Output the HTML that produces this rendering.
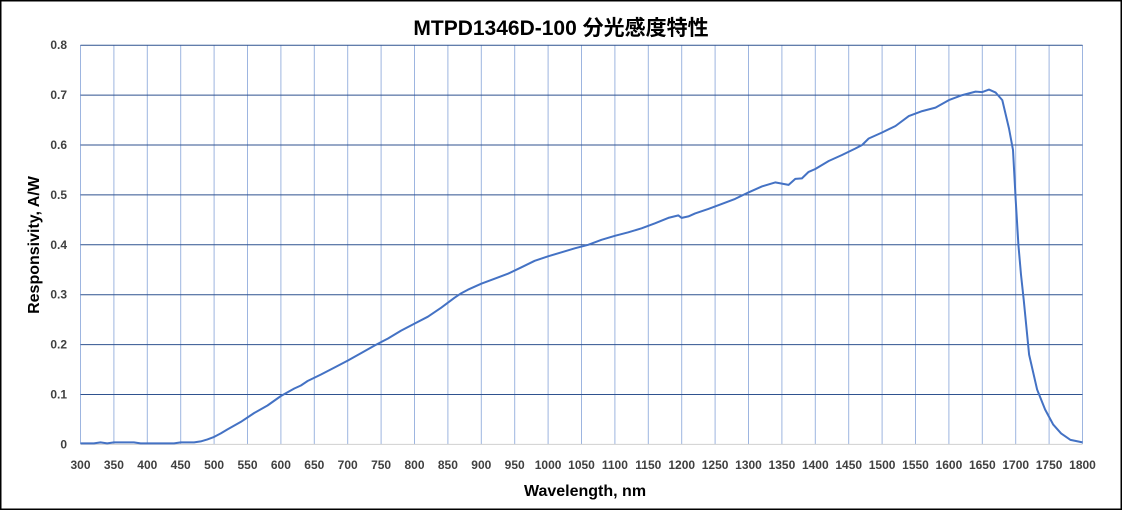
<!DOCTYPE html>
<html><head><meta charset="utf-8"><style>
html,body{margin:0;padding:0;background:#fff}
svg{display:block}
text{font-family:"Liberation Sans","Noto Sans CJK JP",sans-serif}
</style></head><body>
<svg width="1122" height="510" viewBox="0 0 1122 510" xmlns="http://www.w3.org/2000/svg">
<rect x="0.75" y="0.75" width="1120.5" height="508.5" fill="#fff" stroke="#000" stroke-width="1.5"/>
<text x="561" y="35" text-anchor="middle" font-size="21" font-weight="bold" fill="#000">MTPD1346D-100 分光感度特性</text>
<g id="v" stroke="#9db5e0" stroke-width="1"></g>
<g id="h" stroke="#2f528f" stroke-width="1"></g>
<line x1="80.5" y1="444.4" x2="1082.5" y2="444.4" stroke="#d0d0d0" stroke-width="1"/>
<g id="yl" font-size="12" font-weight="bold" fill="#404040" text-anchor="end"></g>
<g id="xl" font-size="12" font-weight="bold" fill="#404040" text-anchor="middle"></g>
<polyline id="c" fill="none" stroke="#4472c4" stroke-width="2" stroke-linejoin="round"/>
<text x="585" y="496" text-anchor="middle" font-size="16" font-weight="bold" fill="#000">Wavelength, nm</text>
<text transform="translate(39,245) rotate(-90)" text-anchor="middle" font-size="16" font-weight="bold" fill="#000">Responsivity, A/W</text>
</svg>
<script>
const NS="http://www.w3.org/2000/svg";
const X=l=>80.5+(l-300)*0.668, Y=r=>444.4-r*499;
function el(p,t,a,txt){const e=document.createElementNS(NS,t);for(const k in a)e.setAttribute(k,a[k]);if(txt!=null)e.textContent=txt;document.getElementById(p).appendChild(e);}
for(let l=300;l<=1800;l+=50){el('v','line',{x1:X(l),y1:45,x2:X(l),y2:444});el('xl','text',{x:X(l),y:469},l);}
for(let i=1;i<=8;i++){el('h','line',{x1:80.5,y1:Y(i/10),x2:1082.5,y2:Y(i/10)});}
for(let i=0;i<=8;i++){el('yl','text',{x:67,y:Y(i/10)+4},i==0?'0':(i/10).toFixed(1));}
const d=[[300,.002],[320,.002],[330,.004],[340,.002],[350,.004],[380,.004],[390,.002],[440,.002],[450,.004],[470,.004],[480,.006],[490,.01],[500,.015],[510,.022],[520,.03],[540,.045],[560,.063],[580,.078],[600,.097],[620,.112],[630,.118],[640,.127],[660,.14],[680,.154],[700,.168],[720,.183],[740,.198],[760,.212],[780,.228],[800,.242],[820,.256],[840,.274],[860,.294],[870,.303],[880,.31],[900,.322],[920,.332],[940,.342],[960,.355],[980,.368],[1000,.377],[1020,.385],[1040,.393],[1060,.4],[1080,.41],[1100,.418],[1120,.425],[1140,.433],[1160,.443],[1180,.454],[1195,.459],[1200,.454],[1210,.457],[1220,.463],[1240,.472],[1260,.482],[1280,.492],[1300,.505],[1320,.517],[1340,.525],[1360,.52],[1370,.532],[1380,.533],[1390,.546],[1400,.552],[1420,.568],[1440,.58],[1460,.593],[1470,.6],[1480,.613],[1500,.625],[1520,.638],[1540,.658],[1560,.668],[1580,.675],[1600,.69],[1620,.7],[1640,.707],[1650,.706],[1660,.711],[1670,.705],[1680,.69],[1690,.633],[1696,.59],[1700,.49],[1704,.40],[1708,.34],[1712,.29],[1720,.18],[1732,.11],[1744,.07],[1756,.04],[1768,.022],[1782,.009],[1800,.004]];
document.getElementById('c').setAttribute('points',d.map(p=>X(p[0]).toFixed(1)+','+Y(p[1]).toFixed(1)).join(' '));
</script>
</body></html>
